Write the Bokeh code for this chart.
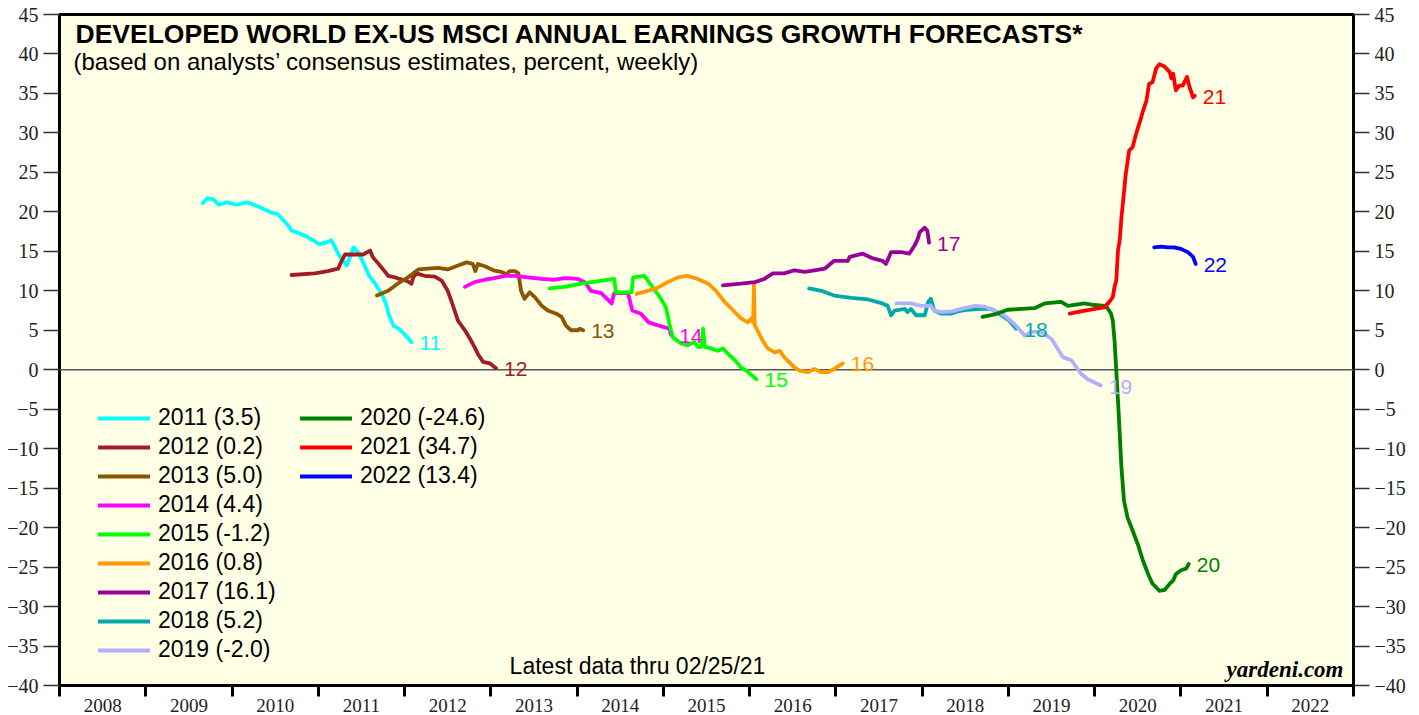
from bokeh.plotting import figure
from bokeh.models import (FixedTicker, LinearAxis, Span, Label, Legend,
                          LegendItem, ColumnDataSource)
from bokeh.core.properties import value
from bokeh.embed import file_html
from bokeh.resources import INLINE

# ---------------- data ----------------
year_bounds = list(range(2008, 2024))
year_mid = [y + 0.5 for y in range(2008, 2023)]
year_labels = [str(y) for y in range(2008, 2023)]
y_ticks = list(range(-40, 50, 5))

t2011 = [2009.66, 2009.71, 2009.78, 2009.85, 2009.94, 2010.05, 2010.17, 2010.28, 2010.36, 2010.46,
         2010.53, 2010.60, 2010.65, 2010.69, 2010.78, 2010.86, 2010.94, 2011.01, 2011.09, 2011.15,
         2011.19, 2011.24, 2011.33, 2011.41, 2011.46, 2011.52, 2011.59, 2011.66, 2011.73, 2011.78,
         2011.82, 2011.87, 2011.93, 2011.99, 2012.03, 2012.08]
v2011 = [21.1, 21.7, 21.6, 20.9, 21.2, 20.9, 21.2, 20.8, 20.4, 19.9,
         19.7, 18.9, 18.3, 17.6, 17.3, 16.9, 16.4, 15.9, 16.1, 16.4,
         15.6, 14.5, 13.2, 15.5, 14.9, 13.6, 11.9, 10.9, 9.7, 8.5,
         6.9, 5.6, 5.2, 4.6, 4.1, 3.5]

t2012 = [2010.69, 2010.96, 2011.11, 2011.23, 2011.27, 2011.31, 2011.42, 2011.52, 2011.60, 2011.63,
         2011.73, 2011.81, 2011.89, 2011.94, 2012.02, 2012.08, 2012.10, 2012.14, 2012.23, 2012.35,
         2012.43, 2012.50, 2012.54, 2012.62, 2012.70, 2012.77, 2012.81, 2012.85, 2012.91, 2012.99,
         2013.06]
v2012 = [12.0, 12.2, 12.5, 12.8, 13.8, 14.6, 14.6, 14.6, 15.1, 14.3,
         13.0, 11.9, 11.7, 11.5, 11.3, 10.9, 11.7, 12.2, 11.9, 11.8,
         11.3, 10.0, 8.8, 6.2, 5.0, 3.7, 2.9, 2.0, 1.0, 0.8,
         0.2]

t2013 = [2011.68, 2011.81, 2011.92, 2012.04, 2012.16, 2012.27, 2012.39, 2012.50, 2012.62, 2012.72,
         2012.79, 2012.82, 2012.85, 2012.93, 2013.03, 2013.12, 2013.18, 2013.22, 2013.28, 2013.32,
         2013.35, 2013.39, 2013.45, 2013.51, 2013.59, 2013.66, 2013.76, 2013.82, 2013.87, 2013.93,
         2014.01, 2014.03, 2014.07]
v2013 = [9.4, 10.0, 10.9, 11.7, 12.7, 12.8, 12.9, 12.7, 13.2, 13.6,
         13.4, 12.5, 13.4, 13.1, 12.6, 12.4, 12.1, 12.5, 12.5, 12.2,
         10.0, 9.0, 9.8, 9.2, 8.1, 7.5, 7.1, 6.7, 5.6, 5.0,
         5.0, 5.2, 5.0]

t2014 = [2012.70, 2012.81, 2012.93, 2013.04, 2013.16, 2013.28, 2013.43, 2013.59, 2013.74, 2013.86,
         2014.01, 2014.09, 2014.16, 2014.28, 2014.40, 2014.43, 2014.59, 2014.64, 2014.74, 2014.83,
         2014.94, 2015.07, 2015.09]
v2014 = [10.5, 11.1, 11.4, 11.6, 11.9, 11.9, 11.7, 11.5, 11.4, 11.6,
         11.5, 11.1, 10.0, 9.7, 8.4, 9.7, 9.7, 7.5, 7.1, 6.0,
         5.6, 5.2, 4.4]

t2015 = [2013.68, 2013.85, 2014.05, 2014.43, 2014.45, 2014.63, 2014.65, 2014.78, 2014.86, 2014.96,
         2015.03, 2015.07, 2015.11, 2015.21, 2015.28, 2015.36, 2015.40, 2015.44, 2015.46, 2015.48,
         2015.55, 2015.63, 2015.69, 2015.75, 2015.83, 2015.90, 2015.96, 2016.08]
v2015 = [10.3, 10.5, 10.9, 11.5, 9.8, 9.8, 11.7, 11.9, 10.7, 9.2,
         7.9, 5.8, 4.1, 3.3, 3.1, 3.5, 2.9, 2.9, 5.2, 2.9,
         2.7, 2.4, 2.7, 2.0, 1.2, 0.3, -0.1, -1.2]

t2016 = [2014.69, 2014.82, 2014.92, 2015.05, 2015.17, 2015.27, 2015.40, 2015.52, 2015.61, 2015.71,
         2015.81, 2015.90, 2015.98, 2016.02, 2016.04, 2016.05, 2016.06, 2016.10, 2016.15, 2016.21,
         2016.29, 2016.35, 2016.40, 2016.52, 2016.58, 2016.68, 2016.75, 2016.83, 2016.91, 2016.98,
         2017.08]
v2016 = [9.6, 10.0, 10.3, 11.1, 11.7, 11.9, 11.5, 10.9, 10.0, 8.6,
         7.5, 6.5, 6.0, 6.5, 6.0, 10.9, 5.6, 4.8, 3.7, 2.7,
         2.2, 2.4, 1.6, 0.3, -0.1, -0.3, 0.1, -0.3, -0.3, 0.1,
         0.8]

t2017 = [2015.69, 2015.90, 2016.06, 2016.17, 2016.27, 2016.40, 2016.52, 2016.64, 2016.75, 2016.87,
         2016.98, 2017.14, 2017.16, 2017.31, 2017.43, 2017.54, 2017.58, 2017.64, 2017.76, 2017.85,
         2017.91, 2017.95, 2017.97, 2018.03, 2018.06, 2018.08]
v2017 = [10.7, 10.9, 11.1, 11.5, 12.2, 12.2, 12.6, 12.4, 12.6, 12.8,
         13.8, 13.8, 14.3, 14.7, 14.1, 13.8, 13.4, 14.9, 14.9, 14.7,
         15.7, 16.6, 17.4, 18.0, 17.6, 16.1]

t2018 = [2016.69, 2016.83, 2016.98, 2017.18, 2017.37, 2017.54, 2017.60, 2017.64, 2017.68, 2017.80,
         2017.83, 2017.87, 2017.93, 2018.03, 2018.07, 2018.10, 2018.14, 2018.22, 2018.34, 2018.41,
         2018.53, 2018.68, 2018.80, 2018.92, 2019.01, 2019.09]
v2018 = [10.3, 10.0, 9.4, 9.1, 8.9, 8.4, 8.1, 6.9, 7.5, 7.7,
         7.3, 7.7, 6.9, 6.9, 8.6, 9.0, 7.5, 7.1, 7.1, 7.4,
         7.6, 7.7, 7.7, 6.9, 6.2, 5.2]

t2019 = [2017.70, 2017.87, 2017.99, 2018.10, 2018.14, 2018.22, 2018.34, 2018.45, 2018.61, 2018.72,
         2018.84, 2018.95, 2019.07, 2019.19, 2019.26, 2019.38, 2019.50, 2019.63, 2019.73, 2019.84,
         2019.92, 2020.07]
v2019 = [8.4, 8.4, 8.1, 8.1, 7.5, 7.3, 7.4, 7.7, 8.1, 8.0,
         7.5, 6.9, 5.8, 4.3, 4.8, 4.8, 3.9, 1.6, 1.2, -0.5,
         -1.2, -2.0]

t2020 = [2018.70, 2018.84, 2018.99, 2019.15, 2019.30, 2019.42, 2019.61, 2019.69, 2019.88, 2020.00,
         2020.11, 2020.15, 2020.19, 2020.21, 2020.23, 2020.25, 2020.27, 2020.29, 2020.31, 2020.34,
         2020.38, 2020.44, 2020.50, 2020.56, 2020.62, 2020.67, 2020.75, 2020.81, 2020.87, 2020.91,
         2020.94, 2021.00, 2021.06, 2021.09]
v2020 = [6.7, 7.0, 7.6, 7.7, 7.8, 8.4, 8.6, 8.1, 8.4, 8.2,
         8.1, 7.8, 7.1, 6.2, 3.7, -0.1, -3.9, -8.1, -12.4, -16.6,
         -18.7, -20.4, -22.1, -24.2, -25.9, -27.1, -28.0, -27.9, -27.1, -26.7,
         -25.9, -25.4, -25.2, -24.6]

t2021 = [2019.71, 2019.84, 2020.00, 2020.11, 2020.17, 2020.21, 2020.23, 2020.25, 2020.27, 2020.29,
         2020.31, 2020.33, 2020.36, 2020.40, 2020.44, 2020.48, 2020.54, 2020.56, 2020.60, 2020.63,
         2020.67, 2020.71, 2020.75, 2020.81, 2020.87, 2020.89, 2020.91, 2020.94, 2020.98, 2021.02,
         2021.07, 2021.10, 2021.14, 2021.16]
v2021 = [7.1, 7.4, 7.7, 7.9, 8.6, 9.2, 10.5, 11.3, 15.1, 16.4,
         19.3, 21.4, 24.8, 27.8, 28.2, 29.9, 32.0, 32.8, 34.1, 36.2,
         36.4, 38.1, 38.7, 38.4, 37.7, 36.9, 37.5, 35.4, 36.0, 36.0,
         37.1, 35.8, 34.5, 34.7]

t2022 = [2020.69, 2020.77, 2020.85, 2020.92, 2021.00, 2021.08, 2021.14, 2021.17]
v2022 = [15.5, 15.6, 15.5, 15.5, 15.3, 14.9, 14.3, 13.4]

series_years = ["2011", "2012", "2013", "2014", "2015", "2016", "2017", "2018",
                "2019", "2020", "2021", "2022"]
series_tags = ["11", "12", "13", "14", "15", "16", "17", "18", "19", "20", "21", "22"]
latest_values = ["3.5", "0.2", "5.0", "4.4", "-1.2", "0.8", "16.1", "5.2",
                 "-2.0", "-24.6", "34.7", "13.4"]
colors = ["#00FFFF", "#A01E23", "#8C5500", "#FF00FF", "#00FF00", "#FF9900",
          "#990099", "#00AAAA", "#B0B0FF", "#008000", "#FF0000", "#0000FF"]
times = [t2011, t2012, t2013, t2014, t2015, t2016, t2017, t2018, t2019, t2020, t2021, t2022]
vals = [v2011, v2012, v2013, v2014, v2015, v2016, v2017, v2018, v2019, v2020, v2021, v2022]

# ---------------- figure ----------------
SANS = "Liberation Sans"
SERIF = "Liberation Serif"

p = figure(width=1419, height=715, x_range=(2008, 2023), y_range=(-40, 45),
           output_backend="svg", toolbar_location=None,
           min_border_left=59, min_border_right=66, min_border_top=14, min_border_bottom=30)
p.background_fill_color = "#FFFFE6"
p.border_fill_color = "white"
p.outline_line_color = "black"
p.outline_line_width = 3
p.xgrid.visible = False
p.ygrid.visible = False

# x axis: labels at mid-year, ticks at year boundaries
xa = p.xaxis[0]
xa.ticker = FixedTicker(ticks=year_mid, minor_ticks=year_bounds)
xa.major_label_overrides = {m: lab for m, lab in zip(year_mid, year_labels)}
xa.axis_line_color = None
xa.major_tick_out = 0
xa.major_tick_in = 0
xa.minor_tick_out = 11
xa.minor_tick_in = 0
xa.minor_tick_line_width = 3
xa.minor_tick_line_color = "black"
xa.major_label_standoff = 2
xa.major_label_text_font = SERIF
xa.major_label_text_font_size = "19px"
xa.major_label_text_color = "#222222"


def style_y(ax):
    ax.ticker = FixedTicker(ticks=y_ticks)
    ax.axis_line_color = None
    ax.major_tick_out = 16
    ax.major_tick_in = 0
    ax.minor_tick_out = 0
    ax.minor_tick_in = 0
    ax.major_tick_line_width = 1.5
    ax.major_tick_line_color = "#333333"
    ax.major_label_standoff = 5
    ax.major_label_text_font = SERIF
    ax.major_label_text_font_size = "20px"
    ax.major_label_text_color = "#222222"


style_y(p.yaxis[0])
ry = LinearAxis()
style_y(ry)
p.add_layout(ry, "right")

p.add_layout(Span(location=0, dimension="width", line_color="#555555",
                  line_width=1.5, level="underlay"))

renderers = []
for t, v, c in zip(times, vals, colors):
    r = p.line(t, v, line_color=c, line_width=3.8, line_join="round", line_cap="round")
    renderers.append(r)

# end-of-line tags
end_src = ColumnDataSource(dict(
    x=[t[-1] for t in times], y=[v[-1] for v in vals],
    text=series_tags, color=colors))
p.text(x="x", y="y", text="text", text_color="color", source=end_src,
       x_offset=8, y_offset=1, text_baseline="middle", text_align="left",
       text_font=value(SANS), text_font_size=value("21px"))

# legends
items = [LegendItem(label=f"{yr} ({lv})", renderers=[r])
         for yr, lv, r in zip(series_years, latest_values, renderers)]


def make_legend(its, loc):
    return Legend(items=its, location=loc, orientation="vertical",
                  border_line_color=None, background_fill_alpha=0,
                  padding=0, margin=0, spacing=2, label_standoff=8,
                  glyph_width=52, glyph_height=20, label_height=20,
                  label_text_font=SANS, label_text_font_size="23px",
                  label_text_color="black")


p.add_layout(make_legend(items[:9], (39, 22)), "center")
p.add_layout(make_legend(items[9:], (241, 196)), "center")

# titles and notes
p.add_layout(Label(x=16, y=652, x_units="screen", y_units="screen",
                   text="DEVELOPED WORLD EX-US MSCI ANNUAL EARNINGS GROWTH FORECASTS*",
                   text_font=SANS, text_font_size="26.5px", text_font_style="bold",
                   text_color="black", text_baseline="alphabetic"))
p.add_layout(Label(x=14, y=624, x_units="screen", y_units="screen",
                   text="(based on analysts\u2019 consensus estimates, percent, weekly)",
                   text_font=SANS, text_font_size="24px",
                   text_color="black", text_baseline="alphabetic"))
p.add_layout(Label(x=578, y=20, x_units="screen", y_units="screen",
                   text="Latest data thru 02/25/21",
                   text_font=SANS, text_font_size="23px", text_align="center",
                   text_color="black", text_baseline="alphabetic"))
p.add_layout(Label(x=1284, y=16, x_units="screen", y_units="screen",
                   text="yardeni.com", text_font=SERIF, text_font_size="23px",
                   text_font_style="bold italic", text_align="right",
                   text_color="black", text_baseline="alphabetic"))

open("out.html", "w").write(file_html(p, INLINE))
